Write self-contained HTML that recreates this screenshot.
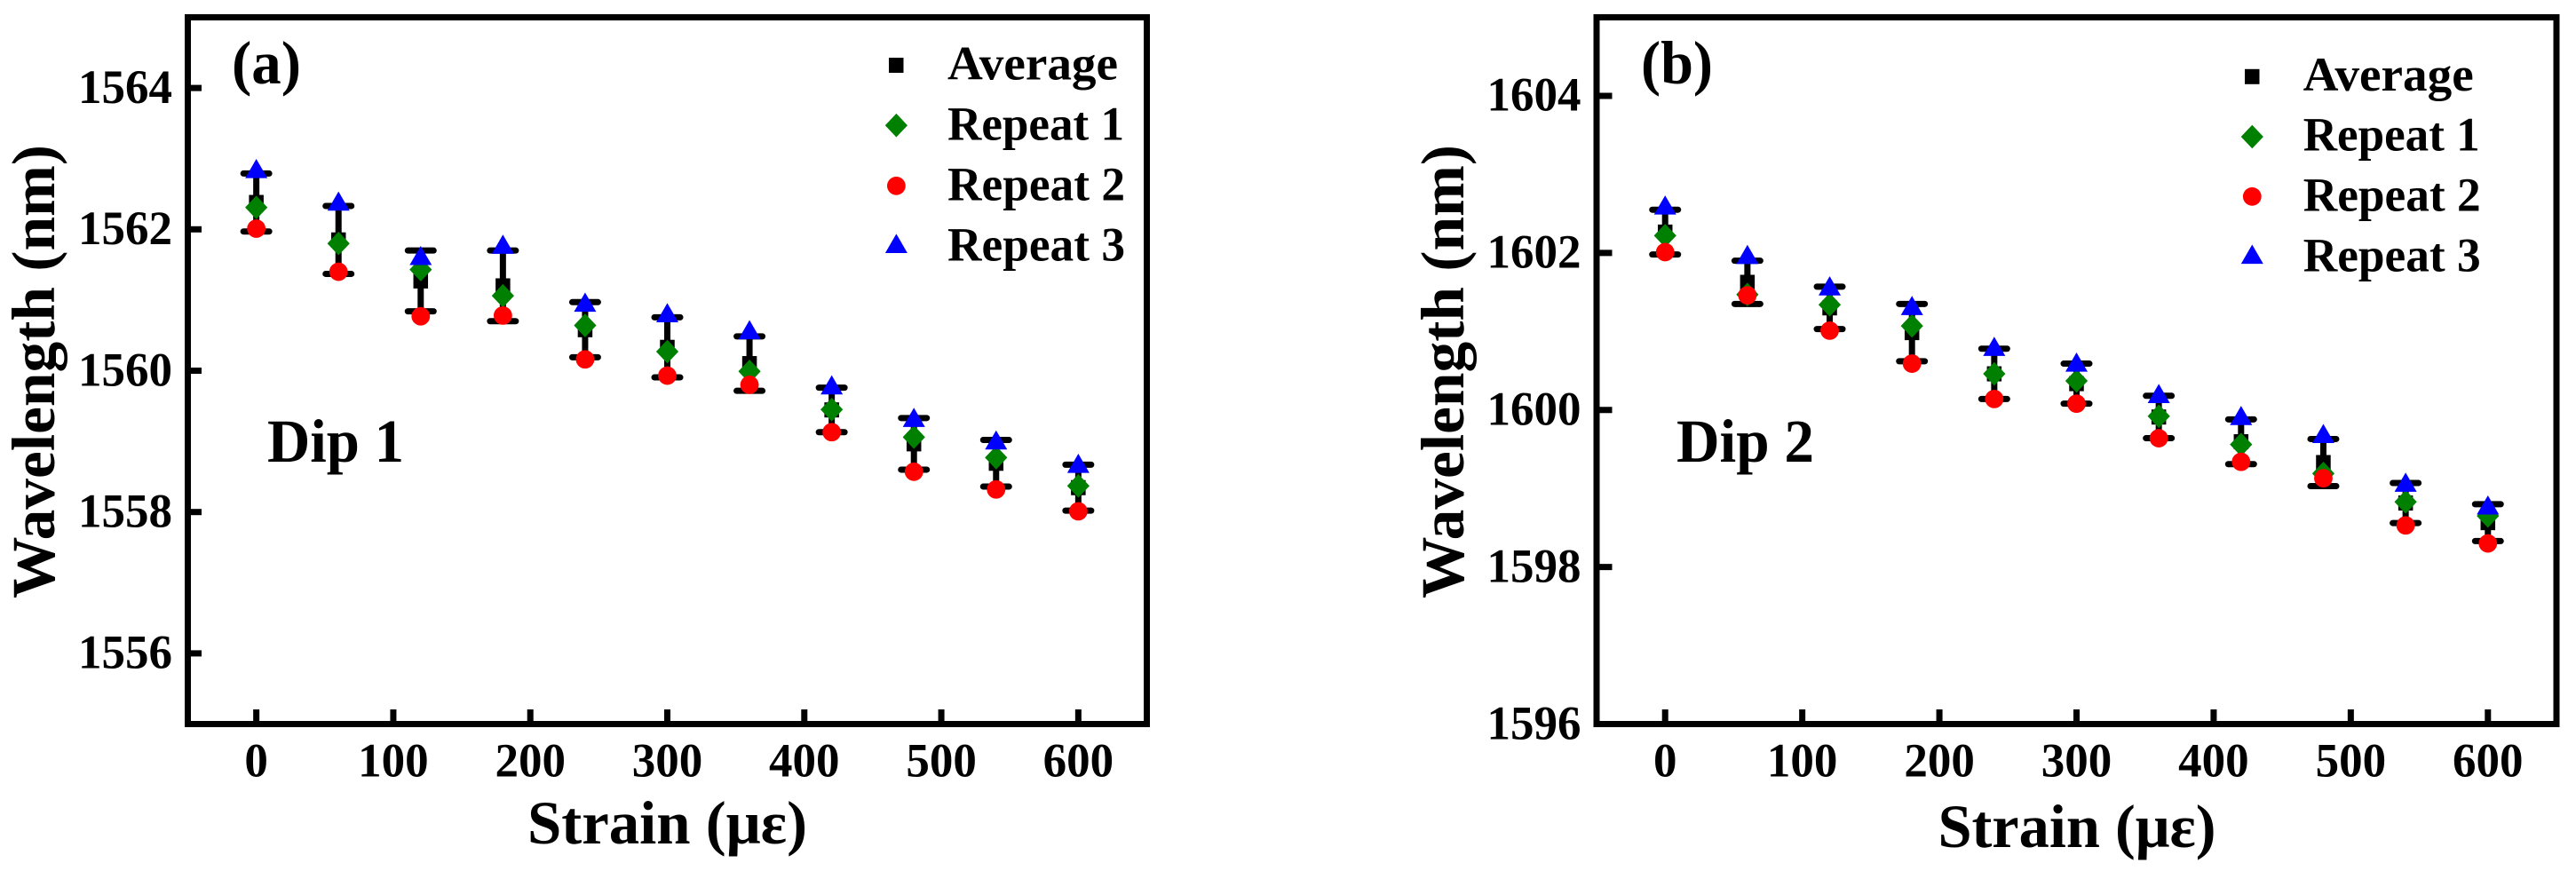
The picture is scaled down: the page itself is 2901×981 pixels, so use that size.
<!DOCTYPE html>
<html lang="en">
<head>
<meta charset="utf-8">
<title>Wavelength versus strain for Dip 1 and Dip 2</title>
<style>
  html, body { margin: 0; padding: 0; background: #fff; }
  svg { display: block; }
  text { font-family: "Liberation Serif", "Times New Roman", serif; font-weight: bold; fill: #000; }
  .tick-label { font-size: 54.5px; }
  .legend-label { font-size: 54.5px; }
  .axis-title { font-size: 69px; }
  .panel-note { font-size: 69px; }
</style>
</head>
<body>
<svg id="figure" xmlns="http://www.w3.org/2000/svg" width="2901" height="981" viewBox="0 0 2901 981">
  <rect x="0" y="0" width="2901" height="981" fill="#fff"/>

  <g id="panel-a">
    <rect x="211.5" y="19.5" width="1080" height="796" fill="none" stroke="#000" stroke-width="7"/>
    <g id="panel-a-ticks"></g>
    <g id="panel-a-marks"></g>
    <text class="axis-title" x="261" y="94" textLength="78" lengthAdjust="spacingAndGlyphs">(a)</text>
    <text class="panel-note" x="301" y="520" textLength="154" lengthAdjust="spacingAndGlyphs">Dip 1</text>
    <text class="axis-title" x="594" y="950" textLength="315" lengthAdjust="spacingAndGlyphs">Strain (με)</text>
    <text class="axis-title" transform="translate(61,674) rotate(-90)" x="0" y="0" textLength="511" lengthAdjust="spacingAndGlyphs">Wavelength (nm)</text>
    <g>
      <rect x="1001" y="65" width="16.5" height="17" fill="#000"/>
      <text class="legend-label" x="1067" y="89.3" textLength="192" lengthAdjust="spacingAndGlyphs">Average</text>
      <polygon points="1009.4,127.9 1022,141.2 1009.4,154.5 996.8,141.2" fill="#008000"/>
      <text class="legend-label" x="1067" y="157.3" textLength="199" lengthAdjust="spacingAndGlyphs">Repeat 1</text>
      <circle cx="1009.4" cy="209.3" r="10.4" fill="#ff0000"/>
      <text class="legend-label" x="1067" y="225.3" textLength="200" lengthAdjust="spacingAndGlyphs">Repeat 2</text>
      <polygon points="1009.4,263.4 1021.9,285 996.9,285" fill="#0000ff"/>
      <text class="legend-label" x="1067" y="293.3" textLength="200" lengthAdjust="spacingAndGlyphs">Repeat 3</text>
    </g>
  </g>

  <g id="panel-b">
    <rect x="1798" y="19.5" width="1081" height="796" fill="none" stroke="#000" stroke-width="7"/>
    <g id="panel-b-ticks"></g>
    <g id="panel-b-marks"></g>
    <text class="axis-title" x="1848" y="94" textLength="81" lengthAdjust="spacingAndGlyphs">(b)</text>
    <text class="panel-note" x="1888" y="520" textLength="155" lengthAdjust="spacingAndGlyphs">Dip 2</text>
    <text class="axis-title" x="2182.5" y="954" textLength="313" lengthAdjust="spacingAndGlyphs">Strain (με)</text>
    <text class="axis-title" transform="translate(1648,674) rotate(-90)" x="0" y="0" textLength="511" lengthAdjust="spacingAndGlyphs">Wavelength (nm)</text>
    <g>
      <rect x="2528" y="77.8" width="16.5" height="17" fill="#000"/>
      <text class="legend-label" x="2593.7" y="102" textLength="192" lengthAdjust="spacingAndGlyphs">Average</text>
      <polygon points="2536.3,140.7 2548.9,154 2536.3,167.3 2523.7,154" fill="#008000"/>
      <text class="legend-label" x="2593.7" y="169.7" textLength="199" lengthAdjust="spacingAndGlyphs">Repeat 1</text>
      <circle cx="2536.3" cy="221.3" r="10.4" fill="#ff0000"/>
      <text class="legend-label" x="2593.7" y="237.3" textLength="200" lengthAdjust="spacingAndGlyphs">Repeat 2</text>
      <polygon points="2536.3,275.5 2548.8,297.1 2523.8,297.1" fill="#0000ff"/>
      <text class="legend-label" x="2593.7" y="305.3" textLength="200" lengthAdjust="spacingAndGlyphs">Repeat 3</text>
    </g>
  </g>
</svg>

<script>
const strainValues = [0, 60, 120, 180, 240, 300, 360, 420, 480, 540, 600];
const xTickValues = [0, 100, 200, 300, 400, 500, 600];

const dip1YTicks = [1556, 1558, 1560, 1562, 1564];
const dip1Average = [1562.38, 1561.85, 1561.27, 1561.20, 1560.58, 1560.33, 1560.10, 1559.445, 1558.965, 1558.69, 1558.345];
const dip1Sd = [0.41, 0.48, 0.43, 0.50, 0.39, 0.425, 0.385, 0.315, 0.365, 0.33, 0.325];
const dip1Repeat1 = [1562.31, 1561.80, 1561.43, 1561.06, 1560.64, 1560.27, 1559.99, 1559.45, 1559.06, 1558.77, 1558.37];
const dip1Repeat2 = [1562.01, 1561.40, 1560.77, 1560.78, 1560.16, 1559.93, 1559.80, 1559.13, 1558.57, 1558.32, 1558.01];
const dip1Repeat3 = [1562.86, 1562.40, 1561.63, 1561.79, 1560.97, 1560.82, 1560.58, 1559.80, 1559.34, 1559.02, 1558.69];

const dip2YTicks = [1596, 1598, 1600, 1602, 1604];
const dip2Average = [1602.265, 1601.625, 1601.30, 1600.985, 1600.46, 1600.335, 1599.91, 1599.595, 1599.33, 1598.815, 1598.565];
const dip2Sd = [0.285, 0.275, 0.27, 0.365, 0.32, 0.255, 0.27, 0.285, 0.30, 0.255, 0.235];
const dip2Repeat1 = [1602.22, 1601.47, 1601.34, 1601.07, 1600.46, 1600.37, 1599.92, 1599.56, 1599.19, 1598.83, 1598.65];
const dip2Repeat2 = [1602.01, 1601.46, 1601.01, 1600.59, 1600.14, 1600.08, 1599.64, 1599.34, 1599.13, 1598.53, 1598.30];
const dip2Repeat3 = [1602.61, 1601.98, 1601.58, 1601.33, 1600.81, 1600.61, 1600.21, 1599.93, 1599.70, 1599.08, 1598.79];

const SVG_NS = 'http://www.w3.org/2000/svg';

function svgEl(tag, geometry, parent) {
  const el = document.createElementNS(SVG_NS, tag);
  Object.keys(geometry).forEach(function (k) { el.setAttribute(k, geometry[k]); });
  parent.appendChild(el);
  return el;
}

function linearScale(d0, d1, p0, p1) {
  return function (v) { return p0 + (v - d0) * (p1 - p0) / (d1 - d0); };
}

function drawAxes(ticksGroup, xScale, yScale, yTicks, box) {
  xTickValues.forEach(function (v) {
    const tick = svgEl('line', { x1: xScale(v), x2: xScale(v), y1: box.bottom, y2: box.bottom - box.xTickLen - 3.5, stroke: '#000', 'stroke-width': 7 }, ticksGroup);
    
    
    const label = svgEl('text', { x: xScale(v), y: 874.3, 'text-anchor': 'middle', class: 'tick-label', textLength: String(v).length * 26.5, lengthAdjust: 'spacingAndGlyphs' }, ticksGroup);
    
    
    label.textContent = String(v);
  });
  yTicks.forEach(function (v) {
    const tick = svgEl('line', { x1: box.left, x2: box.left + box.yTickLen + 3.5, y1: yScale(v), y2: yScale(v), stroke: '#000', 'stroke-width': 7 }, ticksGroup);
    
    
    const label = svgEl('text', { x: box.labelRight, y: yScale(v) + 16.8, 'text-anchor': 'end', class: 'tick-label', textLength: String(v).length * 26.5, lengthAdjust: 'spacingAndGlyphs' }, ticksGroup);
    
    
    label.textContent = String(v);
  });
}

function drawMarks(group, xScale, yScale, average, sd, repeat1, repeat2, repeat3) {
  strainValues.forEach(function (s, i) {
    const x = xScale(s);
    const top = yScale(average[i] + sd[i]);
    const bottom = yScale(average[i] - sd[i]);

    const stem = svgEl('line', { x1: x, x2: x, y1: top, y2: bottom, stroke: '#000', 'stroke-width': 7 }, group);
    
    

    const capTop = svgEl('line', { x1: x - 14.5, x2: x + 14.5, y1: top, y2: top, stroke: '#000', 'stroke-width': 7, 'stroke-linecap': 'round' }, group);
    
    

    const capBottom = svgEl('line', { x1: x - 14.5, x2: x + 14.5, y1: bottom, y2: bottom, stroke: '#000', 'stroke-width': 7, 'stroke-linecap': 'round' }, group);
    
    

    const ya = yScale(average[i]);
    const square = svgEl('rect', { x: x - 8.25, y: ya - 8.5, width: 16.5, height: 17, fill: '#000' }, group);
    
    

    const y1 = yScale(repeat1[i]);
    const diamond = svgEl('polygon', { points: [x, y1 - 13.3, x + 12.6, y1, x, y1 + 13.3, x - 12.6, y1].join(' '), fill: '#008000' }, group);
    
    

    const y2 = yScale(repeat2[i]);
    const circle = svgEl('circle', { cx: x, cy: y2, r: 10.4, fill: '#ff0000' }, group);
    
    

    const y3 = yScale(repeat3[i]);
    const triangle = svgEl('polygon', { points: [x, y3 - 10.8, x + 12.5, y3 + 10.8, x - 12.5, y3 + 10.8].join(' '), fill: '#0000ff' }, group);
    
    
  });
}

const xScaleA = linearScale(-50, 650, 211.5, 1291.5);
const yScaleA = linearScale(1555, 1565, 815.5, 19.5);
drawAxes(document.getElementById('panel-a-ticks'), xScaleA, yScaleA, dip1YTicks,
  { left: 211.5, bottom: 815.5, xTickLen: 13, yTickLen: 12, labelRight: 194 });
drawMarks(document.getElementById('panel-a-marks'), xScaleA, yScaleA, dip1Average, dip1Sd, dip1Repeat1, dip1Repeat2, dip1Repeat3);

const xScaleB = linearScale(-50, 650, 1798, 2879);
const yScaleB = linearScale(1596, 1605, 815.5, 19.5);
drawAxes(document.getElementById('panel-b-ticks'), xScaleB, yScaleB, dip2YTicks,
  { left: 1798, bottom: 815.5, xTickLen: 13, yTickLen: 14, labelRight: 1780.5 });
drawMarks(document.getElementById('panel-b-marks'), xScaleB, yScaleB, dip2Average, dip2Sd, dip2Repeat1, dip2Repeat2, dip2Repeat3);
</script>
</body>
</html>
